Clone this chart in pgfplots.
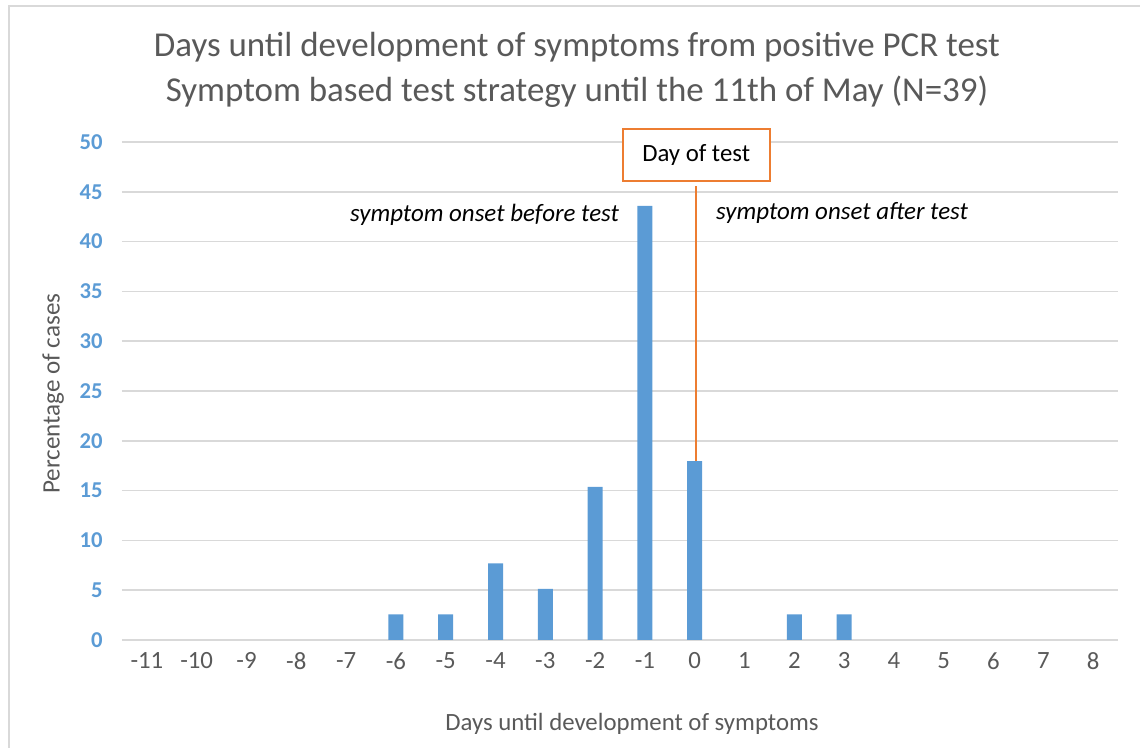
\documentclass[border=0pt]{standalone}
\usepackage{pgfplots}
\pgfplotsset{compat=1.18}
\usepackage{fontspec}
\setmainfont{Carlito}
\definecolor{barblue}{HTML}{5B9BD5}
\definecolor{textgray}{HTML}{595959}
\definecolor{gridgray}{HTML}{D9D9D9}
\definecolor{orangeline}{HTML}{ED7D31}
\begin{document}
\begin{tikzpicture}[x=0.75pt,y=0.75pt]
\useasboundingbox (0,0) rectangle (1140,748);
\draw[color=gridgray, line width=1.2pt] (9,742) rectangle (1160,-20);
\node[text=textgray, font=\fontsize{26.2}{30}\selectfont] at (577,701) {Days until development of symptoms from positive PCR test};
\node[text=textgray, font=\fontsize{26.2}{30}\selectfont] at (577,656) {Symptom based test strategy until the 11th of May (N=39)};
\begin{axis}[
  at={(91.5pt,81pt)}, anchor=south west,
  scale only axis, width=747pt, height=373.5pt,
  xmin=-11.5, xmax=8.5, ymin=0, ymax=50,
  xtick={-11,...,8}, ytick={0,5,...,50},
  axis line style={draw=none},
  major tick length=0pt,
  ymajorgrids, grid style={gridgray, line width=1.2pt},
  x tick label style={text=textgray, font=\fontsize{18.6}{21}\selectfont},
  y tick label style={text=barblue, font=\bfseries\fontsize{17}{20}\selectfont},
  /pgf/number format/assume math mode=true,
  xticklabel shift=6pt, yticklabel shift=11pt,
  xlabel={Days until development of symptoms},
  ylabel={Percentage of cases},
  xlabel style={text=textgray, font=\fontsize{18.6}{21}\selectfont, at={(ticklabel cs:0.5)}, yshift=-26pt, xshift=9pt},
  ylabel style={text=textgray, font=\fontsize{18.8}{21}\selectfont, at={(ticklabel cs:0.5)}, yshift=5pt, xshift=-2pt},
  clip=false,
]
\addplot[ybar, bar width=11.25pt, fill=barblue, draw=none] coordinates {
(-6,2.56) (-5,2.56) (-4,7.69) (-3,5.13) (-2,15.38) (-1,43.59) (0,17.95) (2,2.56) (3,2.56)};
\draw[orangeline, line width=1.2pt] (axis cs:0.03,17.95) -- (axis cs:0.03,45.6);
\node[draw=orangeline, line width=1.5pt, fill=white, minimum width=110pt, minimum height=39pt, font=\fontsize{18.6}{21}\selectfont, text=black] at (axis cs:0.03,48.7) {Day of test};
\node[font=\itshape\fontsize{18.7}{21}\selectfont, text=black] at (axis cs:-4.22,42.7) {symptom onset before test};
\node[font=\itshape\fontsize{18.7}{21}\selectfont, text=black] at (axis cs:2.96,42.9) {symptom onset after test};
\end{axis}
\end{tikzpicture}
\end{document}
